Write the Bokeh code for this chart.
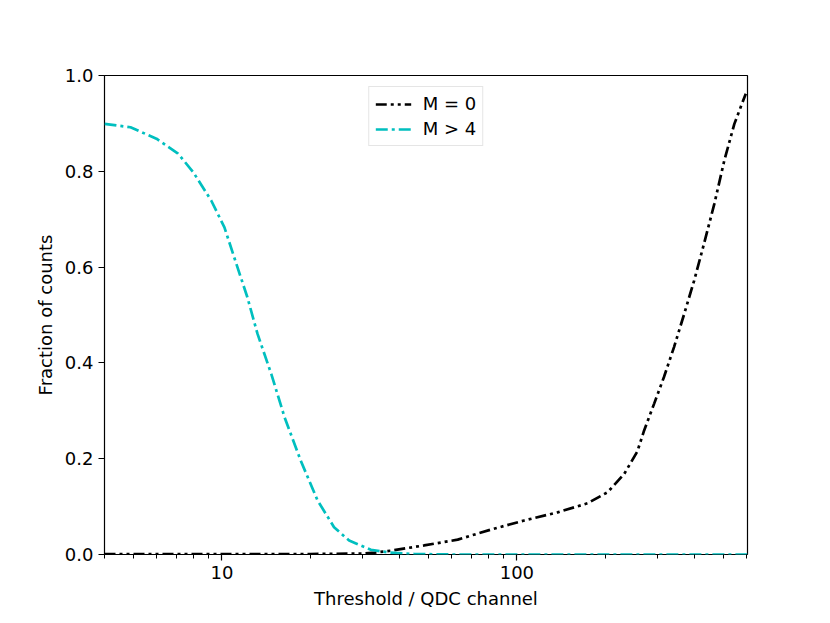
from bokeh.plotting import figure
from bokeh.models import Range1d, FixedTicker, PrintfTickFormatter, Legend, LegendItem
from bokeh.embed import file_html
from bokeh.resources import INLINE

# ---- data ----
x_m0 = [4.0, 10.0, 20.0, 30.0, 33.0, 37.4, 48.5, 63.0, 81.6, 105.9, 137.4, 173.7,
        203.0, 231.0, 256.0, 270.0, 292.0, 315.0, 341.0, 369.0, 399.0, 431.0,
        467.0, 505.0, 546.0, 597.0]
y_m0 = [0.001, 0.001, 0.001, 0.002, 0.004, 0.008, 0.019, 0.031, 0.052, 0.071, 0.088,
        0.107, 0.130, 0.168, 0.215, 0.259, 0.315, 0.370, 0.433, 0.502, 0.572,
        0.649, 0.732, 0.823, 0.899, 0.962]

x_m4 = [4.0, 4.9, 6.0, 7.1, 8.0, 9.2, 10.2, 11.0, 12.2, 13.2, 14.7, 16.3, 18.5,
        21.1, 24.0, 27.0, 32.0, 37.0, 45.0, 60.0, 100.0, 200.0, 400.0, 607.0]
y_m4 = [0.899, 0.892, 0.868, 0.837, 0.798, 0.739, 0.683, 0.621, 0.537, 0.461,
        0.377, 0.287, 0.196, 0.113, 0.057, 0.029, 0.010, 0.004, 0.001, 0.0,
        0.0, 0.0, 0.0, 0.0]

x_major_ticks = [10, 100]
x_minor_ticks = [4, 5, 6, 7, 8, 9, 20, 30, 40, 50, 60, 70, 80, 90,
                 200, 300, 400, 500, 600]
y_ticks = [0.0, 0.2, 0.4, 0.6, 0.8, 1.0]

label_m0 = "M = 0"
label_m4 = "M > 4"
x_title = "Threshold / QDC channel"
y_title = "Fraction of counts"

FONT = "DejaVu Sans"
FS = "18px"

p = figure(width=822, height=615, x_axis_type="log",
           x_range=Range1d(4.0, 605.0), y_range=Range1d(0.0, 1.0),
           output_backend="svg", toolbar_location=None,
           min_border_left=104, min_border_right=75,
           min_border_top=75, min_border_bottom=61)

p.background_fill_color = "white"
p.border_fill_color = "white"
p.outline_line_color = "black"
p.outline_line_width = 1.2
p.grid.visible = False

r0 = p.line(x_m0, y_m0, line_color="black", line_width=2.7,
            line_dash="11 4 3 4 3 4")
r4 = p.line(x_m4, y_m4, line_color="#00bfbf", line_width=2.7,
            line_dash="12 4 3 4")

xa = p.xaxis[0]
xa.ticker = FixedTicker(ticks=x_major_ticks, minor_ticks=x_minor_ticks)
xa.formatter = PrintfTickFormatter(format="%d")
xa.axis_label = x_title
ya = p.yaxis[0]
ya.ticker = FixedTicker(ticks=y_ticks)
ya.formatter = PrintfTickFormatter(format="%.1f")
ya.axis_label = y_title

for ax in (xa, ya):
    ax.axis_line_color = None
    ax.major_tick_line_color = "black"
    ax.minor_tick_line_color = "black"
    ax.major_tick_line_width = 1.2
    ax.minor_tick_line_width = 1.0
    ax.major_tick_in = 0
    ax.major_tick_out = 6
    ax.minor_tick_in = 0
    ax.minor_tick_out = 4
    ax.major_label_text_font = FONT
    ax.major_label_text_font_size = FS
    ax.major_label_text_color = "black"
    ax.axis_label_text_font = FONT
    ax.axis_label_text_font_size = FS
    ax.axis_label_text_font_style = "normal"
    ax.axis_label_text_color = "black"
    ax.major_label_standoff = 5
    ax.axis_label_standoff = 6
ya.minor_tick_out = 0

legend = Legend(items=[LegendItem(label=label_m0, renderers=[r0]),
                       LegendItem(label=label_m4, renderers=[r4])],
                location="top_center", margin=11, padding=6, spacing=4,
                glyph_width=36, glyph_height=20, label_height=20,
                label_standoff=12,
                label_text_font=FONT, label_text_font_size=FS,
                label_text_color="black",
                border_line_color="#cccccc", border_line_width=1,
                background_fill_color="white", background_fill_alpha=0.8)
p.add_layout(legend, "center")

open("out.html", "w").write(file_html(p, INLINE))
